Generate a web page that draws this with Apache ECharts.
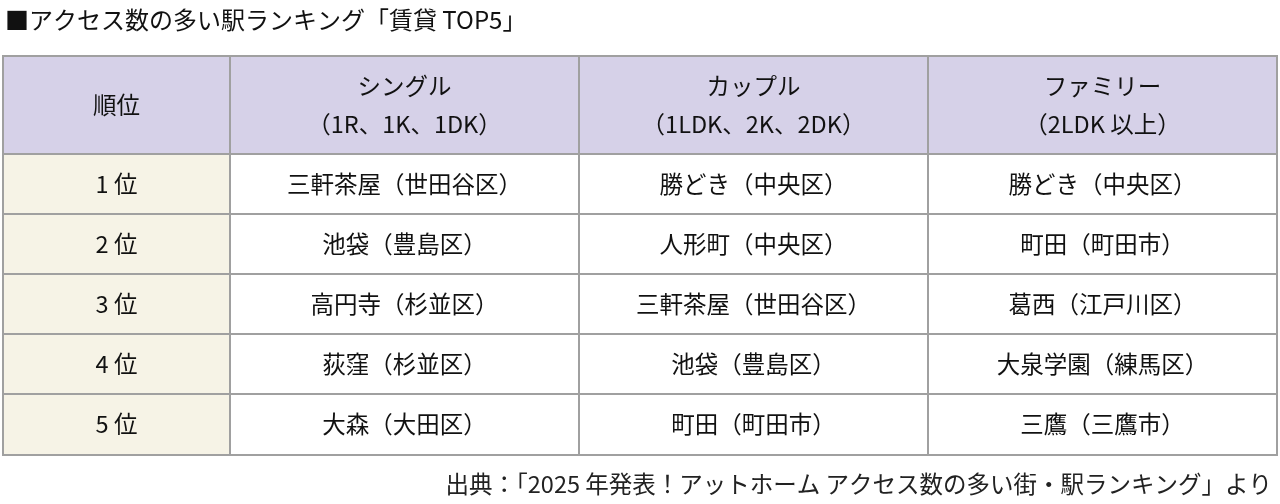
<!DOCTYPE html><html><head><meta charset="utf-8"><script src="https://cdn.jsdelivr.net/npm/echarts@6/dist/echarts.min.js"></script></head><body style="margin:0"><div id="c" style="width:1280px;height:504px"></div><script>
const headers=['順位','シングル\n（1R、1K、1DK）','カップル\n（1LDK、2K、2DK）','ファミリー\n（2LDK 以上）'];
const ranks=['1 位','2 位','3 位','4 位','5 位'];
const single=['三軒茶屋（世田谷区）','池袋（豊島区）','高円寺（杉並区）','荻窪（杉並区）','大森（大田区）'];
const couple=['勝どき（中央区）','人形町（中央区）','三軒茶屋（世田谷区）','池袋（豊島区）','町田（町田市）'];
const family=['勝どき（中央区）','町田（町田市）','葛西（江戸川区）','大泉学園（練馬区）','三鷹（三鷹市）'];
const title='■アクセス数の多い駅ランキング「賃貸 TOP5」';
const source='出典：「2025 年発表！アットホーム アクセス数の多い街・駅ランキング」より';
const cols=[ranks,single,couple,family];
const data=[];
headers.forEach((h,c)=>data.push([c,0,h]));
cols.forEach((arr,c)=>arr.forEach((t,r)=>data.push([c,r+1,t])));
const xEdges=[3,230,579,928,1277];
const yEdges=[56,154,214,274,334,394,455];
const chart=echarts.init(document.getElementById('c'));
chart.setOption({
 title:{text:title,left:0,top:3,textStyle:{fontSize:24,fontWeight:'normal',color:'#111',fontFamily:'Noto Sans CJK JP'}},
 graphic:[{type:'text',right:8,top:472,style:{text:source,fontSize:23.5,fill:'#222',fontFamily:'Noto Sans CJK JP'}}],
 xAxis:{show:false,type:'value'},yAxis:{show:false,type:'value'},
 series:[{type:'custom',data:data,renderItem:(p,api)=>{
  const c=api.value(0),r=api.value(1),t=data[p.dataIndex][2];
  const x0=xEdges[c],x1=xEdges[c+1],y0=yEdges[r],y1=yEdges[r+1];
  const fill=r===0?'#d6d1e8':(c===0?'#f6f3e6':'#ffffff');
  return {type:'group',children:[
   {type:'rect',shape:{x:x0,y:y0,width:x1-x0,height:y1-y0},style:{fill:fill,stroke:'#a0a0a0',lineWidth:2}},
   {type:'text',style:{text:t,x:(x0+x1)/2,y:(y0+y1)/2,align:'center',verticalAlign:'middle',fontSize:23.5,lineHeight:38,fill:'#111',fontFamily:'Noto Sans CJK JP'}}
  ]};
 }}]
});
</script></body></html>
